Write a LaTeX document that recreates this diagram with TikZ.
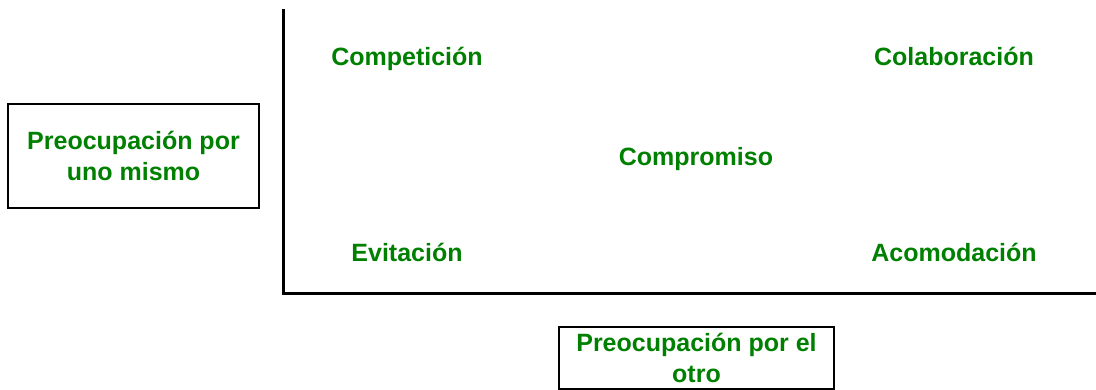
\documentclass[tikz,border=0pt]{standalone}
\usepackage{fontspec}
\setmainfont{Liberation Sans}
\definecolor{lblgreen}{HTML}{008000}
\begin{document}
\begin{tikzpicture}[x=1pt,y=-1pt,
  lbl/.style={text=lblgreen, font=\fontsize{25}{31}\selectfont\bfseries, inner sep=0pt},
  labelbox/.style={lbl, draw=black, line width=2pt, align=center},
  axisline/.style={line width=3pt, line join=miter}]
\useasboundingbox (0,0) rectangle (1096,390);
\fill[white] (0,0) rectangle (1096,390);
% axes
\coordinate (top) at (283,9);
\coordinate (org) at (283,294);
\coordinate (right) at (1096,294);
\draw[axisline] (top) -- (org) -- (right);
% quadrant labels
\node[lbl, anchor=base] (comp) at (407,66) {Competición};
\node[lbl, anchor=base] (cola) at (954,66) {Colaboración};
\node[lbl, anchor=base] (compr) at (696,166) {Compromiso};
\node[lbl, anchor=base] (evit) at (407,262) {Evitación};
\node[lbl, anchor=base] (acom) at (954,262) {Acomodación};
% axis boxes
\node[labelbox, minimum width=251pt, minimum height=104pt] (self) at (133.5,156) {Preocupación por\\uno mismo};
\node[labelbox, minimum width=275pt, minimum height=62pt] (other) at (696.5,358) {Preocupación por el\\otro};
\end{tikzpicture}
\end{document}
